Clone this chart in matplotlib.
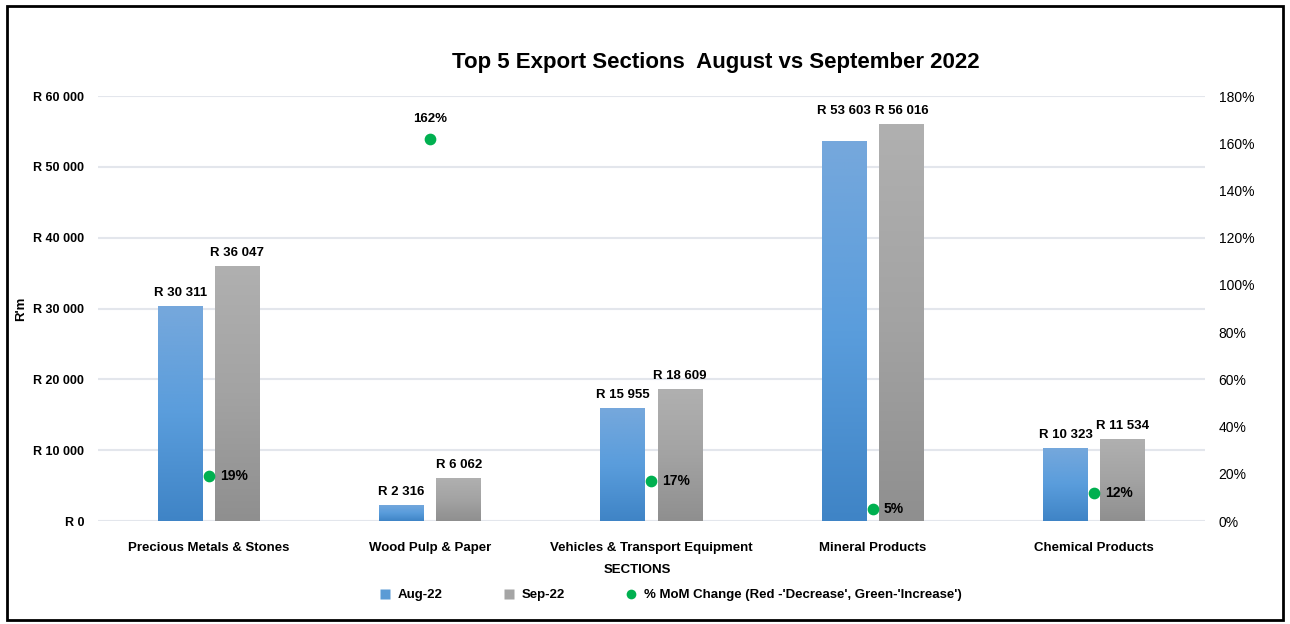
import matplotlib.pyplot as plt
import numpy as np
from matplotlib.colors import LinearSegmentedColormap
from matplotlib.lines import Line2D
from matplotlib.patches import Rectangle
from matplotlib.ticker import FuncFormatter, PercentFormatter

# Data (R'm)
SECTIONS = [
    "Precious Metals & Stones",
    "Wood Pulp & Paper",
    "Vehicles & Transport Equipment",
    "Mineral Products",
    "Chemical Products",
]
AUG_22 = [30311, 2316, 15955, 53603, 10323]
SEP_22 = [36047, 6062, 18609, 56016, 11534]
MOM_CHANGE = [19, 162, 17, 5, 12]  # percent

# Sections where the Aug label sits level with the Sep label
LEVEL_LABELS = ["Mineral Products"]

FONT = ["Liberation Sans", "DejaVu Sans"]
plt.rcParams["font.family"] = FONT

BLUE = LinearSegmentedColormap.from_list("blue", ["#3f84c6", "#5a9ddc", "#76a8dc"])
GREY = LinearSegmentedColormap.from_list("grey", ["#8f8f8f", "#a3a3a3", "#b0b0b0"])
GREEN = "#00b050"
GRID = "#e3e6ec"
FS = 9.5


def rand_fmt(v, _):
    return "R " + f"{int(v):,}".replace(",", " ")


fig = plt.figure(figsize=(12.9, 6.24), dpi=100)
ax = fig.add_axes([0.076, 0.165, 0.858, 0.681])
ax2 = ax.twinx()

x = np.arange(len(SECTIONS))
width = 0.203
offset = 0.129

bars_aug = ax.bar(x - offset, AUG_22, width, color="none", edgecolor="none", zorder=2)
bars_sep = ax.bar(x + offset, SEP_22, width, color="none", edgecolor="none", zorder=2)

# Vertical gradient fill inside each bar
grad = np.linspace(0, 1, 256).reshape(-1, 1)
for bars, cmap in [(bars_aug, BLUE), (bars_sep, GREY)]:
    for rect in bars:
        x0, y0 = rect.get_x(), rect.get_y()
        im = ax.imshow(
            grad,
            extent=[x0, x0 + rect.get_width(), y0, y0 + rect.get_height()],
            origin="lower",
            aspect="auto",
            cmap=cmap,
            zorder=2,
        )
        im.set_clip_path(rect)

# Bar labels
for name, ra, rs in zip(SECTIONS, bars_aug, bars_sep):
    ya = rs.get_height() if name in LEVEL_LABELS else ra.get_height()
    for rect, y in [(ra, ya), (rs, rs.get_height())]:
        ax.annotate(
            rand_fmt(rect.get_height(), None),
            (rect.get_x() + rect.get_width() / 2.0, y),
            xytext=(0, 5),
            textcoords="offset points",
            ha="center",
            va="bottom",
            fontsize=FS,
            fontweight="bold",
        )

# Axis formatting
ax.set_xlim(-0.5, len(SECTIONS) - 0.5)
ax.set_ylim(0, 60000)
ax.set_yticks(np.arange(0, 60001, 10000))
ax.yaxis.set_major_formatter(FuncFormatter(rand_fmt))
ax.grid(axis="y", color=GRID, linewidth=1.5, zorder=0)
ax.set_axisbelow(True)
ax.set_xticks(x)
ax.set_xticklabels(SECTIONS, fontsize=FS, fontweight="bold")
ax.tick_params(axis="both", length=0)
ax.tick_params(axis="y", labelsize=9, pad=10)
ax.tick_params(axis="x", pad=15)
for lbl in ax.get_yticklabels():
    lbl.set_fontweight("bold")
for s in ax.spines.values():
    s.set_visible(False)

ax.set_ylabel("R'm", fontsize=FS, fontweight="bold", labelpad=4)
ax.set_xlabel("SECTIONS", fontsize=FS, fontweight="bold", labelpad=5)
ax.xaxis.set_label_coords(0.487, -0.1)

# % change on secondary axis
ax2.set_ylim(0, 180)
ax2.set_yticks(np.arange(0, 181, 20))
ax2.yaxis.set_major_formatter(PercentFormatter(decimals=0))
ax2.tick_params(axis="y", length=0, labelsize=10, pad=10)
for s in ax2.spines.values():
    s.set_visible(False)
ax2.scatter(x, MOM_CHANGE, s=55, color=GREEN, zorder=4)
for xi, pct in zip(x, MOM_CHANGE):
    if pct > 100:
        ax2.annotate(f"{pct}%", (xi, pct), xytext=(0, 10), textcoords="offset points",
                     ha="center", va="bottom", fontsize=FS, fontweight="bold")
    else:
        ax2.annotate(f"{pct}%", (xi, pct), xytext=(8, 0), textcoords="offset points",
                     ha="left", va="center", fontsize=10, fontweight="bold")

ax.set_title("Top 5 Export Sections  August vs September 2022",
             fontsize=16, fontweight="bold", pad=20, x=0.558)

# Legend
handles = [
    Line2D([], [], marker="s", color="none", markerfacecolor="#5b9bd5",
           markeredgecolor="none", markersize=7, label="Aug-22"),
    Line2D([], [], marker="s", color="none", markerfacecolor="#a5a5a5",
           markeredgecolor="none", markersize=7, label="Sep-22"),
    Line2D([], [], marker="o", color="none", markerfacecolor=GREEN,
           markeredgecolor="none", markersize=7,
           label="% MoM Change (Red -'Decrease', Green-'Increase')"),
]
fig.legend(handles=handles, loc="center", bbox_to_anchor=(0.517, 0.046), ncol=3,
           frameon=False, handletextpad=0.0, columnspacing=4.0,
           prop={"size": FS, "weight": "bold", "family": FONT})

# Outer frame
fig.patches.append(Rectangle((0.0054, 0.0064), 0.989, 0.984, transform=fig.transFigure,
                             fill=False, edgecolor="black", linewidth=2))

plt.savefig("out.png", dpi=100)
